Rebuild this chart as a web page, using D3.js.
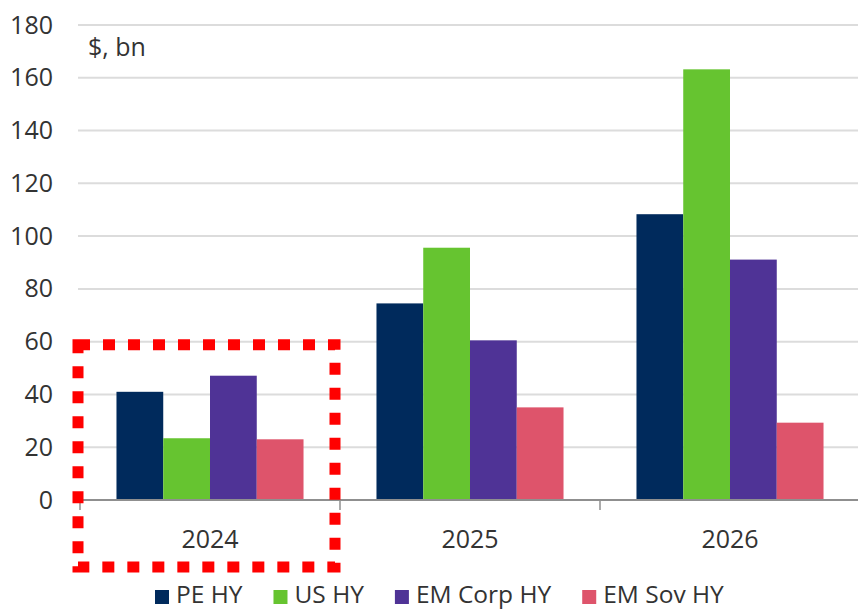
<!DOCTYPE html>
<html>
<head>
<meta charset="utf-8">
<script src="https://cdn.jsdelivr.net/npm/d3@7"></script>
<style>
  html, body { margin: 0; padding: 0; background: #fff; }
  svg { display: block; }
  text { font-family: "Open Sans", "Noto Sans", sans-serif; fill: #333; }
</style>
</head>
<body>
<svg id="chart" width="858" height="610"></svg>
<script>
const years = ["2024", "2025", "2026"];
const seriesNames = ["PE HY", "US HY", "EM Corp HY", "EM Sov HY"];
const peHY     = [41, 74.5, 108.3];
const usHY     = [23.4, 95.6, 163.2];
const emCorpHY = [47.1, 60.5, 91.1];
const emSovHY  = [23.0, 35.1, 29.3];
const yTicks = [0, 20, 40, 60, 80, 100, 120, 140, 160, 180];
const colors = ["#002a5c", "#66c430", "#4f3396", "#de546b"];
const unitLabel = "$, bn";
const highlightYear = "2024";

(function () {
const seriesValues = [peHY, usHY, emCorpHY, emSovHY];
const data = years.map((yr, i) => ({
  year: yr,
  values: seriesNames.map((s, j) => ({ key: s, value: seriesValues[j][i] }))
}));

const svg = d3.select("#chart");
const mLeft = 80, mRight = 860, mTop = 25, mBottom = 500;

const x0 = d3.scaleBand().domain(years).range([mLeft, mRight]).paddingInner(0).paddingOuter(0);
const x1 = d3.scaleBand().domain(seriesNames).range([0, x0.bandwidth()]).paddingInner(0).paddingOuter(0.78);
const y = d3.scaleLinear().domain([0, 180]).range([mBottom, mTop]);
const color = d3.scaleOrdinal().domain(seriesNames).range(colors);

// gridlines
svg.append("g").selectAll("line").data(yTicks.filter(d => d > 0)).join("line")
  .attr("x1", mLeft - 2).attr("x2", 858)
  .attr("y1", d => y(d)).attr("y2", d => y(d))
  .attr("stroke", "#dcdcdc").attr("stroke-width", 2);

// y tick labels
const yAxis = d3.axisLeft(y).tickValues(yTicks).tickSize(0).tickPadding(0);
const gy = svg.append("g").attr("transform", "translate(53,0)").call(yAxis);
gy.select(".domain").remove();
gy.selectAll("text").attr("font-size", 25).attr("fill", "#333")
  .style("font-family", '"Open Sans", sans-serif');

// unit label
svg.append("text").attr("x", 88).attr("y", 56).attr("font-size", 25).text(unitLabel);

// bars
const groups = svg.append("g").selectAll("g").data(data).join("g")
  .attr("transform", d => `translate(${x0(d.year)},0)`);
groups.selectAll("rect").data(d => d.values).join("rect")
  .attr("x", d => x1(d.key))
  .attr("width", x1.bandwidth())
  .attr("y", d => y(d.value))
  .attr("height", d => y(0) - y(d.value))
  .attr("fill", d => color(d.key));

// x axis
const xAxis = d3.axisBottom(x0).tickSize(0).tickPadding(0);
const gx = svg.append("g").attr("transform", `translate(0,${y(0)})`).call(xAxis);
gx.select(".domain").remove();
gx.selectAll("text").attr("font-size", 25).attr("dy", 0).attr("y", 48).attr("fill", "#333")
  .style("font-family", '"Open Sans", sans-serif');
svg.append("line").attr("x1", mLeft - 2).attr("x2", 858).attr("y1", y(0)).attr("y2", y(0))
  .attr("stroke", "#8f8f8f").attr("stroke-width", 2);
// boundary ticks
svg.append("g").selectAll("line").data(years.map(d => x0(d))).join("line")
  .attr("x1", d => d).attr("x2", d => d)
  .attr("y1", y(0)).attr("y2", y(0) + 10)
  .attr("stroke", "#8f8f8f").attr("stroke-width", 1.5);

// highlight box around 2024
const bx0 = x0(highlightYear) - 2, bx1 = x0(highlightYear) + x0.bandwidth() - 5;
const by0 = y(60) + 3, by1 = y(0) + 67;
svg.append("rect")
  .attr("x", bx0).attr("y", by0)
  .attr("width", bx1 - bx0).attr("height", by1 - by0)
  .attr("fill", "none").attr("stroke", "#ff0000").attr("stroke-width", 11)
  .attr("stroke-dasharray", "12,13");

// legend
const legend = svg.append("g");
let lx = 155;
seriesNames.forEach((s) => {
  legend.append("rect").attr("x", lx).attr("y", 590).attr("width", 14).attr("height", 14)
    .attr("fill", color(s));
  const t = legend.append("text").attr("x", lx + 21).attr("y", 603).attr("font-size", 24.5).text(s);
  lx = lx + 21 + t.node().getComputedTextLength() + 31;
});
})();
</script>
</body>
</html>
